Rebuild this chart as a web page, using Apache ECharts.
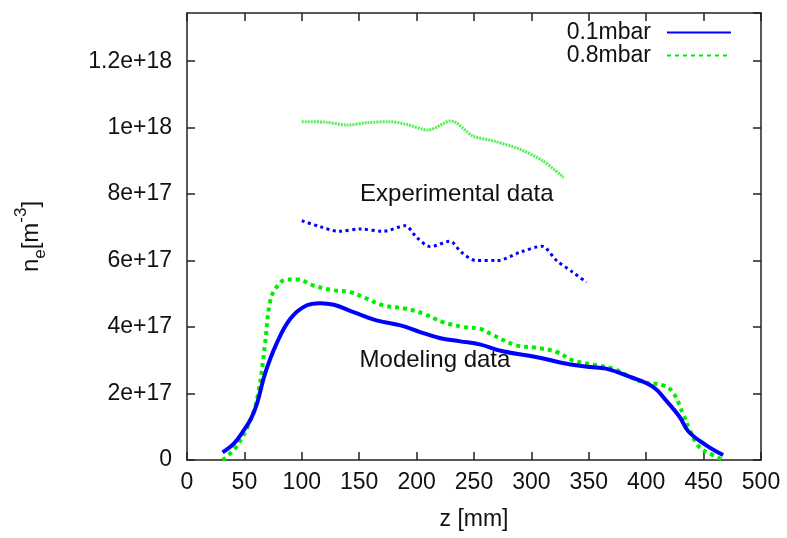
<!DOCTYPE html>
<html>
<head>
<meta charset="utf-8">
<script src="https://cdn.jsdelivr.net/npm/echarts@6/dist/echarts.min.js"></script>
<style>
html,body{margin:0;padding:0;background:#fff;}
#chart{width:787px;height:538px;}
</style>
</head>
<body>
<div id="chart"></div>
<script>
// ---- data (z in mm, n_e in m^-3) ----
const model01 = [
  [31,0.23e17],[41,0.50e17],[50,0.92e17],[56,1.26e17],[61,1.70e17],[68,2.60e17],[78,3.50e17],[90,4.25e17],
  [104,4.65e17],[116,4.72e17],[128,4.67e17],[145,4.45e17],[165,4.20e17],[186,4.05e17],
  [203,3.85e17],[220,3.67e17],[238,3.57e17],[255,3.48e17],[275,3.27e17],[304,3.10e17],
  [333,2.88e17],[351,2.80e17],[365,2.75e17],[386,2.50e17],[406,2.20e17],[417,1.80e17],
  [429,1.30e17],[437,0.85e17],[452,0.45e17],[467,0.15e17]
];
const model08 = [
  [31,0.00e17],[43,0.40e17],[56,1.26e17],[62,2.00e17],[68,3.50e17],[72,4.70e17],[77,5.15e17],
  [87,5.43e17],[96,5.43e17],[110,5.25e17],[125,5.12e17],[142,5.05e17],[157,4.85e17],
  [171,4.65e17],[191,4.55e17],[206,4.40e17],[223,4.15e17],[241,4.00e17],[255,3.95e17],
  [267,3.75e17],[287,3.45e17],[304,3.38e17],[322,3.25e17],[336,3.00e17],[357,2.85e17],
  [371,2.75e17],[383,2.55e17],[397,2.35e17],[414,2.25e17],[423,2.05e17],[432,1.40e17],
  [438,0.90e17],[446,0.40e17],[458,0.15e17],[467,0.00e17]
];
const exp01 = [
  [100,7.20e17],[116,7.02e17],[132,6.88e17],[151,6.95e17],[171,6.88e17],[190,7.05e17],
  [200,6.70e17],[212,6.42e17],[229,6.58e17],[239,6.25e17],[252,6.00e17],[270,6.00e17],
  [290,6.25e17],[309,6.43e17],[322,6.00e17],[336,5.65e17],[348,5.35e17]
];
const exp08 = [
  [100,1.018e18],[119,1.017e18],[140,1.008e18],[157,1.015e18],[177,1.018e18],[191,1.010e18],
  [210,0.993e18],[230,1.020e18],[249,0.975e18],[267,0.960e18],[290,0.935e18],[310,0.900e18],
  [328,0.850e18]
];
const seriesNames = ['0.1mbar','0.8mbar'];
const annotations = [
  {text:'Experimental data', z:235, v:8.0e17},
  {text:'Modeling data', z:216, v:3.0e17}
];
const xTicks = {min:0, max:500, step:50};
const yTicks = {min:0, max:1.345e18, step:2e17};

const FONT = 'Liberation Sans, Arial, sans-serif';
const FS = 23;
const BLUE = '#0000ff', GREEN = '#00ee00';

function yFmt(v){
  const k = v / yTicks.step;
  if (Math.abs(k - Math.round(k)) > 1e-6) return '';
  if (Math.round(k) === 0) return '0';
  return Number((Math.round(k) * 2).toString() + 'e17').toExponential();
}

const chart = echarts.init(document.getElementById('chart'), null, {renderer:'canvas'});
const mkLine = () => ({show:true, onZero:false, lineStyle:{color:'#222', width:1.5}});
const mkTick = () => ({show:true, inside:true, length:8, lineStyle:{color:'#222', width:1.5}});

chart.setOption({
  animation:false,
  backgroundColor:'#fff',
  textStyle:{fontFamily:FONT},
  grid:{left:187, right:26, top:13, bottom:78, containLabel:false},
  legend:{
    data:seriesNames, orient:'vertical', right:50, top:16, align:'right',
    itemWidth:64, itemHeight:14, itemGap:0,
    itemStyle:{opacity:0},
    textStyle:{fontSize:FS, fontFamily:FONT, color:'#111', lineHeight:22, padding:[0,11,0,0]}
  },
  xAxis:[{
    type:'value', position:'bottom', min:xTicks.min, max:xTicks.max, interval:xTicks.step,
    name:'z [mm]', nameLocation:'middle', nameGap:48,
    nameTextStyle:{fontSize:FS, fontFamily:FONT, color:'#111'},
    axisLine:mkLine(), axisTick:mkTick(), splitLine:{show:false},
    axisLabel:{fontSize:FS, fontFamily:FONT, color:'#111', margin:11}
  },{
    type:'value', position:'top', min:xTicks.min, max:xTicks.max, interval:xTicks.step,
    axisLine:mkLine(), axisTick:mkTick(), splitLine:{show:false}, axisLabel:{show:false}
  }],
  yAxis:[{
    type:'value', position:'left', min:yTicks.min, max:yTicks.max, interval:yTicks.step,
    name:'{n|n}{sub|e}{n|[m}{sup|-3}{n|]}', nameLocation:'middle', nameGap:138, nameRotate:90,
    nameTextStyle:{
      fontFamily:FONT, color:'#111',
      rich:{
        n:{fontSize:24, fontFamily:FONT, color:'#111', lineHeight:36},
        sub:{fontSize:17, fontFamily:FONT, color:'#111', verticalAlign:'bottom', lineHeight:17},
        sup:{fontSize:17, fontFamily:FONT, color:'#111', verticalAlign:'top', lineHeight:17}
      }
    },
    axisLine:mkLine(), axisTick:mkTick(), splitLine:{show:false},
    axisLabel:{fontSize:FS, fontFamily:FONT, color:'#111', margin:15, formatter:yFmt, showMaxLabel:false}
  },{
    type:'value', position:'right', min:yTicks.min, max:yTicks.max, interval:yTicks.step,
    axisLine:mkLine(), axisTick:mkTick(), splitLine:{show:false}, axisLabel:{show:false}
  }],
  series:[
    {
      name:seriesNames[0], type:'line', data:model01, smooth:0.4, symbol:'none',
      lineStyle:{color:BLUE, width:4}, itemStyle:{color:BLUE}, z:3
    },
    {
      name:seriesNames[1], type:'line', data:model08, smooth:0.4, symbol:'none',
      lineStyle:{color:GREEN, width:4, type:[4,4]}, itemStyle:{color:GREEN}, z:2
    },
    {
      name:'exp ' + seriesNames[0], type:'line', data:exp01, smooth:0.3, symbol:'none',
      lineStyle:{color:BLUE, width:3, type:[3,3.5]}, itemStyle:{color:BLUE}
    },
    {
      name:'exp ' + seriesNames[1], type:'line', data:exp08, smooth:0.3, symbol:'none',
      lineStyle:{color:'#55ee55', width:3, type:[2,1]}, itemStyle:{color:'#55ee55'},
      markPoint:{
        symbol:'circle', symbolSize:0, silent:true,
        label:{show:true, position:'inside', fontSize:24, fontFamily:FONT, color:'#111',
               formatter:p => p.name},
        data:annotations.map(a => ({name:a.text, coord:[a.z, a.v]}))
      }
    }
  ]
});
</script>
</body>
</html>
